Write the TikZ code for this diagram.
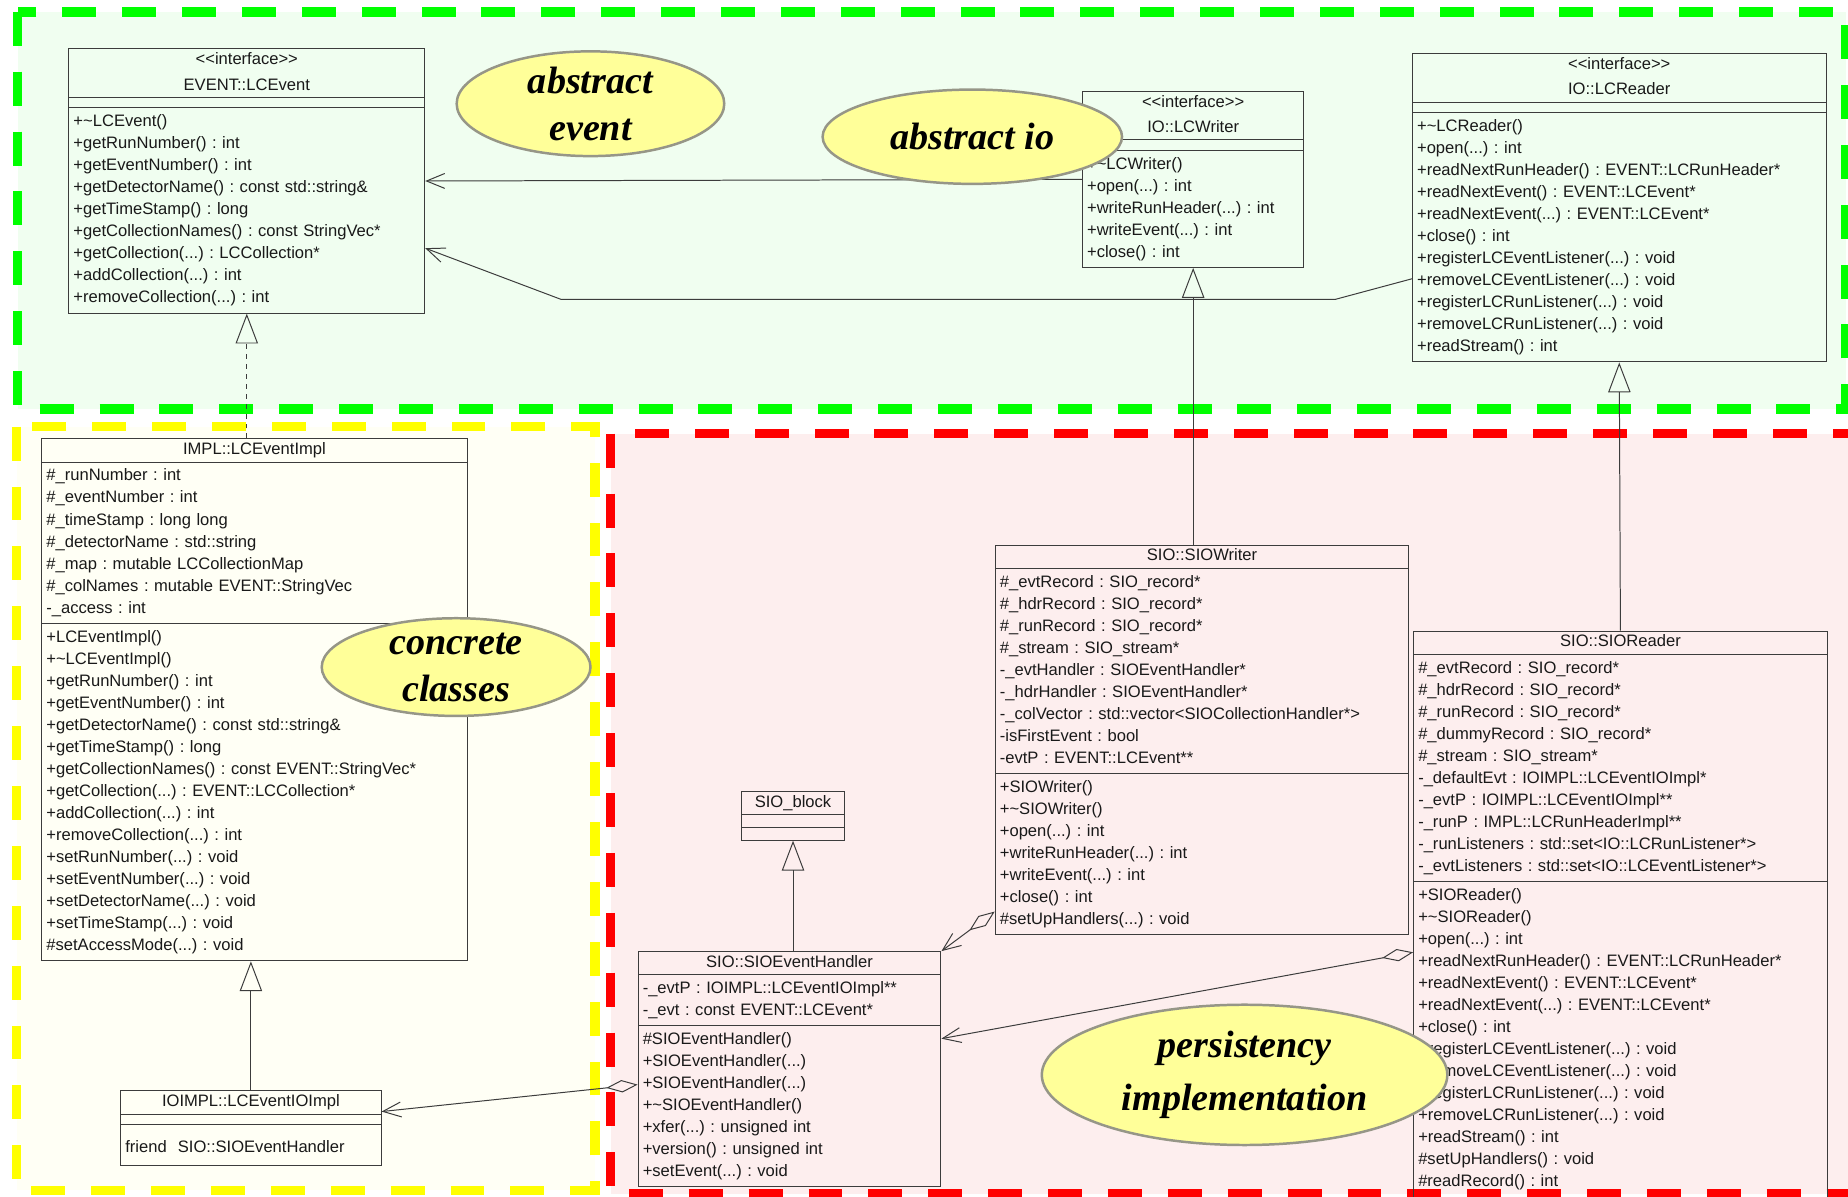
\documentclass[tikz,border=0pt]{standalone}
\usepackage{fontspec}
\setmainfont{Liberation Sans}
\newfontfamily\notefont{Liberation Serif}
\definecolor{zgreen}{RGB}{0,255,0}
\definecolor{zgreenbg}{RGB}{240,254,240}
\definecolor{zyellow}{RGB}{255,255,0}
\definecolor{zyellowbg}{RGB}{255,255,245}
\definecolor{zred}{RGB}{255,0,0}
\definecolor{zredbg}{RGB}{253,238,238}
\definecolor{notefill}{RGB}{255,255,153}
\definecolor{noteline}{RGB}{150,150,135}
\definecolor{umlline}{RGB}{60,60,60}
\usetikzlibrary{arrows.meta,positioning,shapes.geometric,shapes.multipart,calc}
\newcommand{\headstrut}{\rule[-2.5pt]{0pt}{10pt}}
\newcommand{\clsstrut}{\rule[-4.1pt]{0pt}{13.3pt}}
\newcommand{\emptycomp}{\rule{0pt}{2.2pt}}
\newcommand{\clsname}[1]{\makebox[\linewidth]{\headstrut#1}}

\begin{document}
\begin{tikzpicture}[x=0.025cm, y=-0.025cm,
  zone/.style={line width=5.7pt, dash pattern=on 0.72cm off 0.55cm},
  cls/.style={rectangle split, rectangle split parts=3, draw=umlline, line width=0.6pt,
              anchor=north west, align=left, inner xsep=2.8pt, inner ysep=1.75pt,
              font=\fontsize{10}{13.3}\selectfont\frenchspacing, text=black!90},
  note/.style={ellipse, draw=noteline, line width=1.5pt, fill=notefill, inner sep=0pt,
               align=center, font=\notefont\bfseries\itshape\fontsize{23}{28.5}\selectfont},
  gen/.style={draw=umlline, line width=0.6pt, -{Triangle[open, length=18pt, width=13.5pt]}},
  real/.style={gen, dash pattern=on 3pt off 3pt},
  assoc/.style={draw=umlline, line width=0.6pt, -{Straight Barb[length=11pt, width=9pt]}},
  aggr/.style={assoc, {Diamond[open, length=19pt, width=7.5pt]}-{Straight Barb[length=11pt, width=9pt]}}
]
\useasboundingbox (0,0) rectangle (1568,1015);
\clip (0,0) rectangle (1568,1015);

% Package zones
\draw[zone, draw=zgreen,  fill=zgreenbg]  (15,10)   rectangle (1566,347);
\draw[zone, draw=zyellow, fill=zyellowbg] (14,362)  rectangle (505,1010);
\draw[zone, draw=zred,    fill=zredbg]    (518,368) rectangle (1600,1013);

% Interfaces
\node[cls, text width=7.35cm] (lcevent) at (58,41)
  {\clsname{<{}<interface>{}>}\\[2pt]\clsname{EVENT::LCEvent}
   \nodepart{two}\emptycomp
   \nodepart{three}\clsstrut+\textasciitilde LCEvent()\\
   +getRunNumber() : int\\
   +getEventNumber() : int\\
   +getDetectorName() : const std::string\&\\
   +getTimeStamp() : long\\
   +getCollectionNames() : const StringVec*\\
   +getCollection(...) : LCCollection*\\
   +addCollection(...) : int\\
   +removeCollection(...) : int\clsstrut};

\node[cls, text width=4.5cm] (lcwriter) at (918,77)
  {\clsname{<{}<interface>{}>}\\[2pt]\clsname{IO::LCWriter}
   \nodepart{two}\emptycomp
   \nodepart{three}\clsstrut+\textasciitilde LCWriter()\\
   +open(...) : int\\
   +writeRunHeader(...) : int\\
   +writeEvent(...) : int\\
   +close() : int\clsstrut};

\node[cls, text width=8.575cm] (lcreader) at (1198,45)
  {\clsname{<{}<interface>{}>}\\[2pt]\clsname{IO::LCReader}
   \nodepart{two}\emptycomp
   \nodepart{three}\clsstrut+\textasciitilde LCReader()\\
   +open(...) : int\\
   +readNextRunHeader() : EVENT::LCRunHeader*\\
   +readNextEvent() : EVENT::LCEvent*\\
   +readNextEvent(...) : EVENT::LCEvent*\\
   +close() : int\\
   +registerLCEventListener(...) : void\\
   +removeLCEventListener(...) : void\\
   +registerLCRunListener(...) : void\\
   +removeLCRunListener(...) : void\\
   +readStream() : int\clsstrut};

% Concrete classes
\node[cls, text width=8.825cm] (lceventimpl) at (35,372)
  {\clsname{IMPL::LCEventImpl}
   \nodepart{two}\clsstrut\#\_runNumber : int\\
   \#\_eventNumber : int\\
   \#\_timeStamp : long long\\
   \#\_detectorName : std::string\\
   \#\_map : mutable LCCollectionMap\\
   \#\_colNames : mutable EVENT::StringVec\\
   -\_access : int\clsstrut
   \nodepart{three}\clsstrut+LCEventImpl()\\
   +\textasciitilde LCEventImpl()\\
   +getRunNumber() : int\\
   +getEventNumber() : int\\
   +getDetectorName() : const std::string\&\\
   +getTimeStamp() : long\\
   +getCollectionNames() : const EVENT::StringVec*\\
   +getCollection(...) : EVENT::LCCollection*\\
   +addCollection(...) : int\\
   +removeCollection(...) : int\\
   +setRunNumber(...) : void\\
   +setEventNumber(...) : void\\
   +setDetectorName(...) : void\\
   +setTimeStamp(...) : void\\
   \#setAccessMode(...) : void\clsstrut};

\node[cls, text width=5.325cm] (lceventioimpl) at (102,925)
  {\clsname{IOIMPL::LCEventIOImpl}
   \nodepart{two}\emptycomp
   \nodepart{three}\rule[-6pt]{0pt}{20.6pt}friend\ \ SIO::SIOEventHandler};

% Persistency classes
\node[cls, text width=1.975cm] (sioblock) at (629,671)
  {\clsname{SIO\_block}
   \nodepart{two}\rule{0pt}{3.6pt}
   \nodepart{three}\rule{0pt}{3.6pt}};

\node[cls, text width=6.225cm] (sioeventhandler) at (541,807)
  {\clsname{SIO::SIOEventHandler}
   \nodepart{two}\clsstrut-\_evtP : IOIMPL::LCEventIOImpl**\\
   -\_evt : const EVENT::LCEvent*\clsstrut
   \nodepart{three}\clsstrut\#SIOEventHandler()\\
   +SIOEventHandler(...)\\
   +SIOEventHandler(...)\\
   +\textasciitilde SIOEventHandler()\\
   +xfer(...) : unsigned int\\
   +version() : unsigned int\\
   +setEvent(...) : void\clsstrut};

\node[cls, text width=8.575cm] (siowriter) at (844,462)
  {\clsname{SIO::SIOWriter}
   \nodepart{two}\clsstrut\#\_evtRecord : SIO\_record*\\
   \#\_hdrRecord : SIO\_record*\\
   \#\_runRecord : SIO\_record*\\
   \#\_stream : SIO\_stream*\\
   -\_evtHandler : SIOEventHandler*\\
   -\_hdrHandler : SIOEventHandler*\\
   -\_colVector : std::vector<SIOCollectionHandler*>\\
   -isFirstEvent : bool\\
   -evtP : EVENT::LCEvent**\clsstrut
   \nodepart{three}\clsstrut+SIOWriter()\\
   +\textasciitilde SIOWriter()\\
   +open(...) : int\\
   +writeRunHeader(...) : int\\
   +writeEvent(...) : int\\
   +close() : int\\
   \#setUpHandlers(...) : void\clsstrut};

\node[cls, text width=8.575cm] (sioreader) at (1199,535)
  {\clsname{SIO::SIOReader}
   \nodepart{two}\clsstrut\#\_evtRecord : SIO\_record*\\
   \#\_hdrRecord : SIO\_record*\\
   \#\_runRecord : SIO\_record*\\
   \#\_dummyRecord : SIO\_record*\\
   \#\_stream : SIO\_stream*\\
   -\_defaultEvt : IOIMPL::LCEventIOImpl*\\
   -\_evtP : IOIMPL::LCEventIOImpl**\\
   -\_runP : IMPL::LCRunHeaderImpl**\\
   -\_runListeners : std::set<IO::LCRunListener*>\\
   -\_evtListeners : std::set<IO::LCEventListener*>\clsstrut
   \nodepart{three}\clsstrut+SIOReader()\\
   +\textasciitilde SIOReader()\\
   +open(...) : int\\
   +readNextRunHeader() : EVENT::LCRunHeader*\\
   +readNextEvent() : EVENT::LCEvent*\\
   +readNextEvent(...) : EVENT::LCEvent*\\
   +close() : int\\
   +registerLCEventListener(...) : void\\
   +removeLCEventListener(...) : void\\
   +registerLCRunListener(...) : void\\
   +removeLCRunListener(...) : void\\
   +readStream() : int\\
   \#setUpHandlers() : void\\
   \#readRecord() : int\clsstrut};

% Associations
\draw[assoc] (lcwriter.west) -- (lcevent.east);
\draw[assoc] ($(lcreader.south west)+(0,-71)$) -- (1133,254) -- (476,254) -- ($(lcevent.east)+(0,57)$);

% Generalisations
\draw[real] (lceventimpl.north -| lcevent.south) -- (lcevent.south);
\draw[gen] (lceventioimpl.north) -- (lceventioimpl.north |- lceventimpl.south);
\draw[gen] (siowriter.north -| lcwriter.south) -- (lcwriter.south);
\draw[gen] (sioreader.north) -- (lcreader.south);
\draw[gen] (sioeventhandler.north -| sioblock.south) -- (sioblock.south);

% Aggregations
\draw[aggr] ($(siowriter.south west)+(0,-20)$) -- (sioeventhandler.north east);
\draw[aggr] ($(sioreader.north west)+(0,273)$) -- ($(sioeventhandler.east)+(0,-26)$);
\draw[aggr] ($(sioeventhandler.west)+(0,13)$) -- ($(lceventioimpl.east)+(0,-14)$);

% Notes
\node[note, minimum width=5.675cm, minimum height=1.925cm] (absevent) at (501,88) {abstract\\event};
\node[note, minimum width=6.35cm, minimum height=2cm] (absio) at (825,116) {abstract io};
\node[note, minimum width=5.7cm, minimum height=1.85cm] (concrete) at (387,566) {concrete\\classes};
\node[note, minimum width=8.6cm, minimum height=2.975cm] (persist) at (1056,912) {persistency\\[3.5pt]implementation};
\end{tikzpicture}
\end{document}
